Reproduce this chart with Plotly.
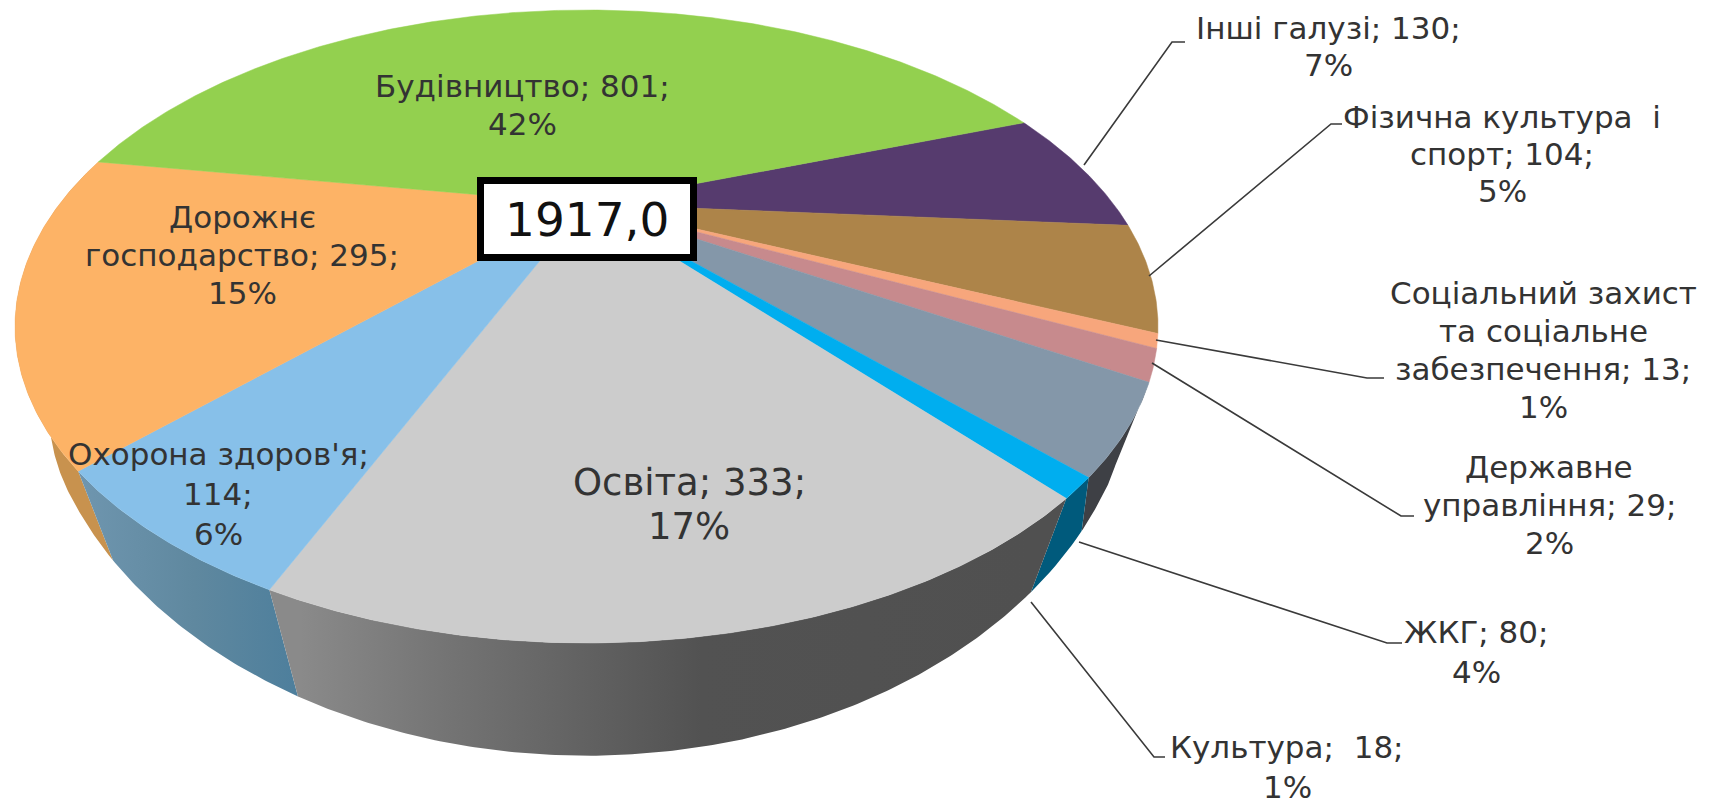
import numpy as np
import plotly.graph_objects as go

# ---- data (clockwise, starting at the first slice angle) ----
categories = ["Інші галузі", "Фізична культура  і спорт", "Соціальний захист та соціальне забезпечення",
              "Державне управління", "ЖКГ", "Культура", "Освіта", "Охорона здоров'я",
              "Дорожнє господарство", "Будівництво"]
values = [130, 104, 13, 29, 80, 18, 333, 114, 295, 801]
label_lines = [
    ["Інші галузі; {v};", "{p}%"],
    ["Фізична культура \u00a0і", "спорт; {v};", "{p}%"],
    ["Соціальний захист", "та соціальне", "забезпечення; {v};", "{p}%"],
    ["Державне", "управління; {v};", "{p}%"],
    ["ЖКГ; {v};", "{p}%"],
    ["Культура; \u00a0{v};", "{p}%"],
    ["Освіта; {v};", "{p}%"],
    ["Охорона здоров'я;", "{v};", "{p}%"],
    ["Дорожнє", "господарство; {v};", "{p}%"],
    ["Будівництво; {v};", "{p}%"],
]

# ---- styles ----
top_colors = ["#563B6E", "#AD8449", "#F7A67C", "#C78A8D", "#8497A9", "#00AEEF",
              "#CCCCCC", "#87C0E9", "#FDB366", "#93D04F"]
wall_colors = {4: "#3E4045", 5: "#005A7C", 8: "#C8924E"}
label_pos = [(1328, 46), (1502, 154), (1543, 350), (1549, 505), (1476, 652), (1287, 767),
             (689, 504), (218, 494), (242, 255), (522, 105)]
label_size = [31, 31, 31, 31, 31, 31, 37, 31, 31, 31]
line_gap = [37, 37, 38, 38, 40, 40, 44, 40, 38, 38]
leaders = [
    [(1084, 165), (1172, 42), (1185, 42)],
    [(1149, 276), (1331, 124), (1342, 124)],
    [(1156, 340), (1367, 378), (1384, 378)],
    [(1152, 363), (1401, 516), (1414, 516)],
    [(1079, 542), (1387, 643), (1402, 643)],
    [(1031, 602), (1154, 757), (1165, 757)],
]

# ---- perspective pie geometry ----
CX, CY, A, B = 586.5, 326.5, 571.5, 316.5   # outline of the top face
D = 0.387                                    # foreshortening: centre sits above ellipse centre
START = 70.0                                 # first slice angle (deg clockwise from 12 o'clock)
VX, VY = 586.0, 1770.0                       # vanishing point of the pie's side edges
CYAN_STEEL_SHIFT = -5.0                      # floor of the cyan/steel wall edge lags the top edge


def rim(deg):
    t = np.radians(deg)
    X, Y = np.sin(t), np.cos(t)
    w = 1 + D * Y
    return CX + A * X * np.sqrt(1 - D * D) / w, CY - B * (Y + D) / w


def floor(x, y):
    s = 0.94 - np.clip(y - 423, 0, None) * 0.0001818
    return VX + s * (x - VX), VY + s * (y - VY)


total = sum(values)
edges = START + np.cumsum([0] + values) / total * 360
cx0, cy0 = rim(0)[0], CY - B * D

fig = go.Figure()
# visible side walls, drawn back to front
for i in [8, 4, 7, 5, 6]:
    n = max(10, int(values[i] / 2))
    ts = np.linspace(edges[i], edges[i + 1], n)
    lo, hi = edges[i], edges[i + 1]
    if i == 4:
        hi += CYAN_STEEL_SHIFT
    if i == 5:
        lo += CYAN_STEEL_SHIFT
    x, y = rim(ts)
    fx, fy = floor(*rim(np.linspace(lo, hi, n)))
    tr = dict(x=np.r_[x, fx[::-1], x[0]], y=np.r_[y, fy[::-1], y[0]], mode="lines", fill="toself",
              line=dict(width=0), hoverinfo="skip", showlegend=False)
    if categories[i] == "Освіта":
        tr["fillgradient"] = dict(type="horizontal", start=300, stop=1030,
                                  colorscale=[[0, "#8A8A8A"], [0.2, "#747474"], [0.55, "#525252"], [1, "#505050"]])
    elif categories[i] == "Охорона здоров'я":
        tr["fillgradient"] = dict(type="horizontal", start=85, stop=305,
                                  colorscale=[[0, "#6E95AE"], [0.5, "#5F889F"], [1, "#4C7E9C"]])
    else:
        tr["fillcolor"] = wall_colors[i]
    fig.add_trace(go.Scatter(**tr))

# top face
for i in range(len(values)):
    ts = np.linspace(edges[i], edges[i + 1], max(8, int(values[i] / 2)))
    x, y = rim(ts)
    fig.add_trace(go.Scatter(x=np.r_[cx0, x, cx0], y=np.r_[cy0, y, cy0], mode="lines", fill="toself",
                             fillcolor=top_colors[i], line=dict(width=0.5, color=top_colors[i]),
                             name=categories[i], text=f"{categories[i]}: {values[i]}", hoverinfo="text",
                             showlegend=False))

# leader lines
shapes = []
for pts in leaders:
    path = "M " + " L ".join(f"{a},{b}" for a, b in pts)
    shapes.append(dict(type="path", path=path, line=dict(color="#3A3A3A", width=1.6), layer="above"))
# centre box
shapes.append(dict(type="rect", x0=480.5, x1=693.5, y0=180.5, y1=257.5, fillcolor="white",
                   line=dict(color="#000000", width=7), layer="above"))

annotations = []
for i, lines in enumerate(label_lines):
    pct = round(values[i] / total * 100)
    for k, s in enumerate(lines):
        yy = label_pos[i][1] + (k - (len(lines) - 1) / 2) * line_gap[i]
        annotations.append(dict(x=label_pos[i][0], y=yy, text=s.format(v=values[i], p=pct), showarrow=False,
                                xanchor="center", yanchor="middle", align="center",
                                font=dict(family="DejaVu Sans", size=label_size[i], color="#333333")))
annotations.append(dict(x=587, y=219, text=f"{total:.1f}".replace(".", ","), showarrow=False,
                        xanchor="center", yanchor="middle",
                        font=dict(family="DejaVu Sans", size=47, color="#111111")))

fig.update_layout(
    width=1710, height=806, margin=dict(l=0, r=0, t=0, b=0), autosize=False,
    paper_bgcolor="white", plot_bgcolor="white", showlegend=False,
    xaxis=dict(range=[0, 1710], visible=False, fixedrange=True),
    yaxis=dict(range=[806, 0], visible=False, fixedrange=True),
    shapes=shapes, annotations=annotations,
)
fig.write_html("out.html", post_script="document.body.style.margin='0';document.documentElement.style.overflow='hidden';",
               config={"displayModeBar": False})
